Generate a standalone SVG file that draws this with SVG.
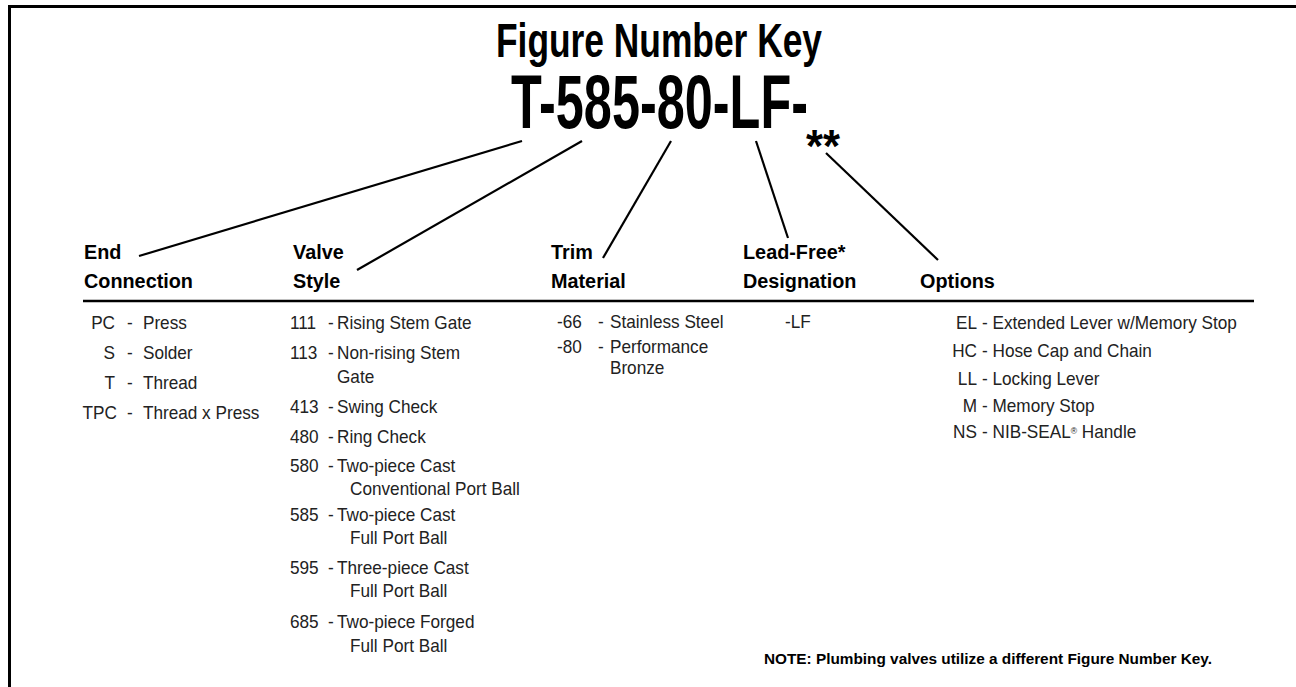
<svg xmlns="http://www.w3.org/2000/svg" width="1296" height="687" viewBox="0 0 1296 687">
<style>
.t{font-family:"Liberation Sans",Arial,sans-serif;fill:#000}
.b{font-weight:bold}
.body{font-size:18px;fill:#222}
.hd{font-size:21px;font-weight:bold}
.ln{stroke:#000;stroke-width:2.2;fill:none;stroke-linecap:butt}
</style>
<rect width="1296" height="687" fill="#fff"/>
<path d="M9.5,687 V6.5 H1296" fill="none" stroke="#000" stroke-width="3"/>
<g id="title">
<text class="t b" x="496" y="57" font-size="49" textLength="326" lengthAdjust="spacingAndGlyphs">Figure Number Key</text>
<text class="t b" x="511" y="128" font-size="76" textLength="297" lengthAdjust="spacingAndGlyphs">T-585-80-LF-</text>
<text class="t b" x="806" y="162" font-size="46" textLength="34" lengthAdjust="spacingAndGlyphs">**</text>
</g>
<g id="connectors">
<line class="ln" x1="522" y1="141" x2="139" y2="256"/>
<line class="ln" x1="582" y1="141" x2="357" y2="270"/>
<line class="ln" x1="671" y1="141" x2="603" y2="258"/>
<line class="ln" x1="756" y1="141" x2="788" y2="238"/>
<line class="ln" x1="826" y1="153" x2="938" y2="260"/>
</g>
<line id="rule" x1="83" y1="301" x2="1254" y2="301" stroke="#000" stroke-width="2.5"/>
<g id="headings" transform="scale(0.944 1)">
<text class="t hd" x="89" y="259">End</text>
<text class="t hd" x="89" y="288">Connection</text>
<text class="t hd" x="310.4" y="259">Valve</text>
<text class="t hd" x="310.4" y="288">Style</text>
<text class="t hd" x="583.7" y="259">Trim</text>
<text class="t hd" x="583.7" y="288">Material</text>
<text class="t hd" x="787.1" y="259">Lead-Free*</text>
<text class="t hd" x="787.1" y="288">Designation</text>
<text class="t hd" x="974.6" y="288">Options</text>
</g>
<g transform="scale(0.955 1)">
<g id="end-connection">
<text class="t body" x="120.4" y="329" text-anchor="end">PC</text><text class="t body" x="133" y="329">-</text><text class="t body" x="149.7" y="329">Press</text>
<text class="t body" x="120.4" y="359" text-anchor="end">S</text><text class="t body" x="133" y="359">-</text><text class="t body" x="149.7" y="359">Solder</text>
<text class="t body" x="120.4" y="389" text-anchor="end">T</text><text class="t body" x="133" y="389">-</text><text class="t body" x="149.7" y="389">Thread</text>
<text class="t body" x="122.5" y="419" text-anchor="end">TPC</text><text class="t body" x="133" y="419">-</text><text class="t body" x="149.7" y="419">Thread x Press</text>
</g>
<g id="valve-style">
<text class="t body" x="303.7" y="329">111</text><text class="t body" x="343.5" y="329">-</text><text class="t body" x="352.9" y="329">Rising Stem Gate</text>
<text class="t body" x="303.7" y="359">113</text><text class="t body" x="343.5" y="359">-</text><text class="t body" x="352.9" y="359">Non-rising Stem</text>
<text class="t body" x="352.9" y="383">Gate</text>
<text class="t body" x="303.7" y="413">413</text><text class="t body" x="343.5" y="413">-</text><text class="t body" x="352.9" y="413">Swing Check</text>
<text class="t body" x="303.7" y="443">480</text><text class="t body" x="343.5" y="443">-</text><text class="t body" x="352.9" y="443">Ring Check</text>
<text class="t body" x="303.7" y="472">580</text><text class="t body" x="343.5" y="472">-</text><text class="t body" x="352.9" y="472">Two-piece Cast</text>
<text class="t body" x="366.5" y="495">Conventional Port Ball</text>
<text class="t body" x="303.7" y="521">585</text><text class="t body" x="343.5" y="521">-</text><text class="t body" x="352.9" y="521">Two-piece Cast</text>
<text class="t body" x="366.5" y="544">Full Port Ball</text>
<text class="t body" x="303.7" y="574">595</text><text class="t body" x="343.5" y="574">-</text><text class="t body" x="352.9" y="574">Three-piece Cast</text>
<text class="t body" x="366.5" y="597">Full Port Ball</text>
<text class="t body" x="303.7" y="628">685</text><text class="t body" x="343.5" y="628">-</text><text class="t body" x="352.9" y="628">Two-piece Forged</text>
<text class="t body" x="366.5" y="652">Full Port Ball</text>
</g>
<g id="trim-material">
<text class="t body" x="583.2" y="328">-66</text><text class="t body" x="626.2" y="328">-</text><text class="t body" x="638.7" y="328">Stainless Steel</text>
<text class="t body" x="583.2" y="353">-80</text><text class="t body" x="626.2" y="353">-</text><text class="t body" x="638.7" y="353">Performance</text>
<text class="t body" x="638.7" y="374">Bronze</text>
</g>
<g id="lead-free">
<text class="t body" x="822" y="328">-LF</text>
</g>
<g id="options">
<text class="t body" x="1023" y="329" text-anchor="end">EL</text><text class="t body" x="1028.3" y="329">- Extended Lever w/Memory Stop</text>
<text class="t body" x="1023" y="357" text-anchor="end">HC</text><text class="t body" x="1028.3" y="357">- Hose Cap and Chain</text>
<text class="t body" x="1023" y="385" text-anchor="end">LL</text><text class="t body" x="1028.3" y="385">- Locking Lever</text>
<text class="t body" x="1023" y="412" text-anchor="end">M</text><text class="t body" x="1028.3" y="412">- Memory Stop</text>
<text class="t body" x="1023" y="438" text-anchor="end">NS</text><text class="t body" x="1028.3" y="438">- NIB-SEAL<tspan font-size="9" dy="-4">®</tspan><tspan dy="4"> Handle</tspan></text>
</g>
</g>
<g id="note">
<text class="t b" x="764" y="664" font-size="14" textLength="448" lengthAdjust="spacingAndGlyphs">NOTE: Plumbing valves utilize a different Figure Number Key.</text>
</g>
</svg>
